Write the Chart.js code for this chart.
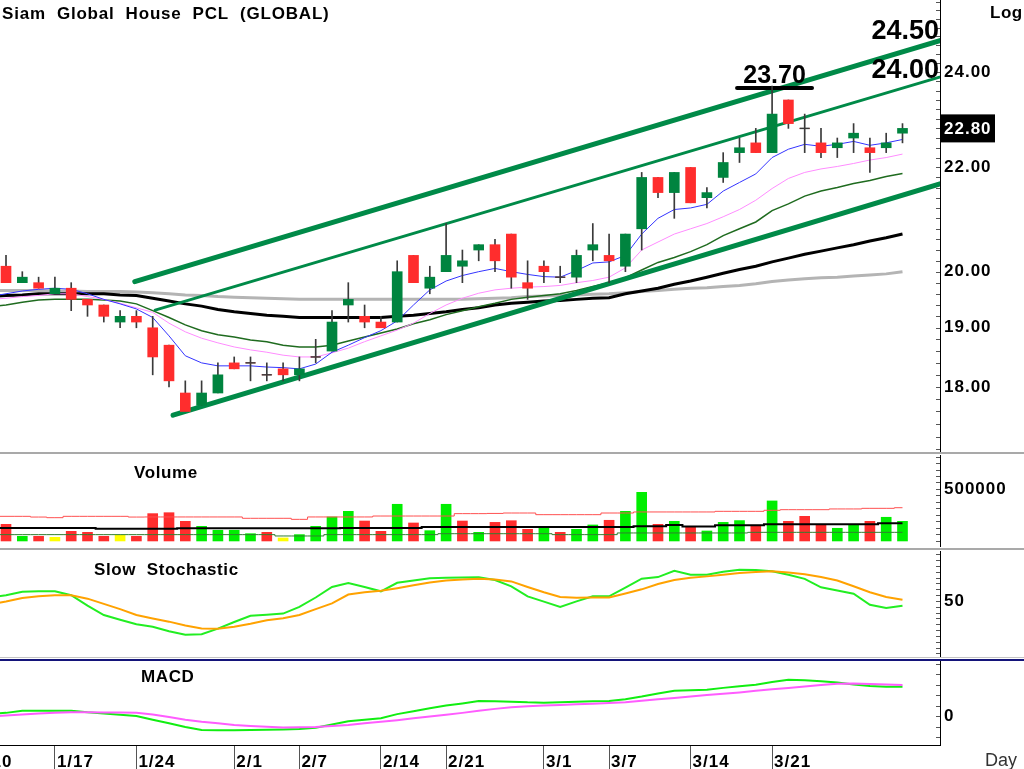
<!DOCTYPE html>
<html>
<head>
<meta charset="utf-8">
<title>Siam Global House PCL (GLOBAL)</title>
<script src="https://cdn.jsdelivr.net/npm/chart.js@4.4.1/dist/chart.umd.min.js"></script>
<style>
  html, body { margin:0; padding:0; background:#fff; }
  body { width:1024px; height:769px; position:relative; overflow:hidden; }
  canvas { position:absolute; left:-33px; }
  .sep { position:absolute; left:0; width:1024px; }
</style>
</head>
<body>
<canvas id="cMain" width="1057" height="452" style="top:0px"></canvas>
<canvas id="cVol" width="1057" height="92" style="top:455px"></canvas>
<canvas id="cSto" width="1057" height="106" style="top:551px"></canvas>
<canvas id="cMacd" width="1057" height="108" style="top:661px"></canvas>
<div class="sep" style="top:452px;height:2px;background:#a9a9a9"></div>
<div class="sep" style="top:548px;height:2px;background:#a9a9a9"></div>
<div class="sep" style="top:657px;height:1px;background:#c4c4c4"></div>
<div class="sep" style="top:659px;height:2px;background:#14147a"></div>
<script>
const FONT = '"Liberation Sans", Arial, Helvetica, sans-serif';

// ---------------- data ----------------
const dates = ['1/10','1/11','1/12','1/13','1/14','1/17','1/18','1/19','1/20','1/21','1/24','1/25','1/26','1/27','1/28','1/31',
  '2/1','2/2','2/3','2/4','2/7','2/8','2/9','2/10','2/11','2/14','2/15','2/17','2/18','2/21','2/22','2/23','2/24','2/25','2/28',
  '3/1','3/2','3/3','3/4','3/7','3/8','3/9','3/10','3/11','3/14','3/15','3/16','3/17','3/18','3/21','3/22','3/23','3/24','3/25',
  '3/28','3/29','3/30','3/31'];
const tickDates = ['1/10','1/17','1/24','2/1','2/7','2/14','2/21','3/1','3/7','3/14','3/21'];

const firstCandle = '1/12';
const open  = [20.1,19.8,19.8,19.6,19.7,19.5,19.4,19.1,19.2,19.0,18.7,17.9,17.7,17.9,18.4,18.4,18.2,18.3,18.2,18.5,
  18.6,19.4,19.2,19.1,19.1,20.3,19.7,20.0,20.1,20.4,20.5,20.7,19.8,20.1,19.9,19.9,20.4,20.3,20.1,20.8,
  21.8,21.5,22.0,21.4,21.8,22.3,22.5,22.3,23.4,22.8,22.5,22.4,22.6,22.4,22.4,22.7];
const high  = [20.3,20.0,19.9,19.9,19.8,19.5,19.4,19.3,19.3,19.2,18.7,18.1,18.1,18.4,18.5,18.5,18.4,18.4,18.5,18.8,
  19.3,19.8,19.4,19.2,20.2,20.3,20.1,20.9,20.4,20.5,20.6,20.7,20.2,20.2,20.1,20.4,20.9,20.7,20.7,21.9,
  21.8,21.9,22.0,21.6,22.3,22.6,22.8,23.7,23.4,23.1,22.8,22.6,22.9,22.6,22.7,22.9];
const low   = [19.8,19.8,19.7,19.6,19.3,19.2,19.1,19.0,19.0,18.2,18.0,17.6,17.7,17.9,18.3,18.1,18.1,18.1,18.1,18.4,
  18.6,19.1,19.0,19.0,19.1,19.8,19.6,20.0,19.8,20.2,20.0,19.7,19.5,19.8,19.8,19.8,20.2,19.8,20.0,20.4,
  21.4,21.0,21.3,21.2,21.7,22.1,22.3,22.3,22.8,22.3,22.2,22.2,22.3,21.9,22.3,22.5];
const close = [19.8,19.9,19.7,19.7,19.5,19.4,19.2,19.2,19.1,18.5,18.1,17.6,17.9,18.2,18.3,18.4,18.2,18.2,18.3,18.5,
  19.1,19.5,19.1,19.0,20.0,19.8,19.9,20.3,20.2,20.5,20.2,19.9,19.7,20.0,19.9,20.3,20.5,20.2,20.7,21.8,
  21.5,21.9,21.3,21.5,22.1,22.4,22.3,23.1,22.9,22.8,22.3,22.5,22.7,22.3,22.5,22.8];
const prevClose = 20.0;   // close of 1/11 (volume of 1/12 is shown as a decline)
const volume = [160000,45000,45000,35000,93000,83000,45000,55000,45000,263000,272000,189000,141000,103000,103000,70000,
  83000,29000,61000,141000,231000,285000,192000,93000,353000,173000,99000,353000,192000,83000,179000,195000,
  112000,125000,83000,112000,154000,199000,285000,468000,160000,189000,135000,96000,179000,196000,151000,385000,
  189000,237000,151000,122000,151000,189000,228000,189000];

// indicator series start one day earlier (1/11)
const firstAvg = '1/11';
const ma5   = [19.55,19.6,19.65,19.68,19.7,19.68,19.6,19.5,19.42,19.33,19.18,18.86,18.52,18.4,18.35,18.35,18.35,18.33,18.32,18.3,
  18.38,18.58,18.7,18.83,18.95,19.12,19.4,19.67,19.83,19.93,20.0,20.06,20.0,19.95,19.91,19.9,20.02,20.16,20.18,20.3,
  20.7,21.0,21.17,21.2,21.27,21.53,21.7,21.87,22.2,22.37,22.47,22.43,22.47,22.53,22.45,22.5,22.57];
const ma10  = [19.5,19.52,19.55,19.57,19.6,19.6,19.55,19.5,19.43,19.35,19.27,19.08,18.93,18.82,18.74,18.67,18.62,18.58,18.53,18.5,
  18.5,18.57,18.65,18.76,18.86,18.96,19.08,19.25,19.4,19.52,19.61,19.67,19.7,19.72,19.73,19.75,19.8,19.84,19.9,20.07,
  20.4,20.55,20.7,20.8,20.9,21.03,21.17,21.35,21.58,21.78,21.9,21.97,22.02,22.08,22.15,22.2,22.27];
const ma25  = [19.37,19.4,19.45,19.49,19.5,19.5,19.5,19.49,19.47,19.42,19.3,19.18,19.05,18.95,18.88,18.84,18.79,18.76,18.7,18.67,
  18.67,18.7,18.77,18.84,18.91,18.98,19.07,19.14,19.23,19.3,19.37,19.43,19.5,19.54,19.57,19.6,19.66,19.73,19.8,19.89,
  20.03,20.17,20.26,20.37,20.5,20.67,20.8,20.93,21.15,21.28,21.43,21.53,21.6,21.68,21.74,21.82,21.88];
const ma75  = [19.55,19.57,19.58,19.6,19.6,19.6,19.6,19.6,19.58,19.57,19.52,19.47,19.42,19.38,19.32,19.28,19.25,19.22,19.2,19.18,
  19.18,19.18,19.18,19.18,19.18,19.2,19.22,19.25,19.28,19.32,19.35,19.4,19.43,19.45,19.47,19.48,19.5,19.52,19.53,19.6,
  19.65,19.7,19.77,19.83,19.9,19.97,20.04,20.1,20.18,20.25,20.32,20.38,20.44,20.5,20.57,20.63,20.7];
const ma200 = [19.66,19.66,19.66,19.66,19.65,19.65,19.64,19.64,19.64,19.63,19.62,19.6,19.58,19.57,19.55,19.54,19.53,19.52,19.51,19.5,
  19.5,19.5,19.5,19.5,19.5,19.5,19.5,19.5,19.5,19.5,19.51,19.52,19.53,19.55,19.56,19.57,19.58,19.59,19.6,19.62,
  19.64,19.66,19.68,19.7,19.71,19.73,19.75,19.78,19.82,19.85,19.87,19.89,19.9,19.92,19.94,19.96,20.0];

const volAvgRed   = [237,237,237,230,224,237,237,237,237,230,231,231,231,231,231,231,218,218,218,208,
  231,231,231,231,240,240,240,240,240,263,263,265,269,269,253,253,253,253,269,269,
  279,279,279,279,279,285,285,285,295,301,301,301,308,308,314,314,320].map(v => v * 1000);
const volAvgBlack = [125,125,125,125,125,125,125,117,117,117,117,117,122,122,122,122,122,122,122,122,
  122,122,125,125,125,125,125,135,135,135,135,135,135,135,135,135,135,135,135,135,
  141,141,154,138,138,151,151,151,160,160,160,160,160,160,160,170,170].map(v => v * 1000);
const volAvgGreen = [61,61,61,61,61,61,61,61,61,61,61,61,61,61,61,61,61,61,48,48,
  48,61,61,61,61,61,61,61,70,70,70,70,70,70,70,61,61,61,61,77,
  77,77,77,77,77,77,77,83,83,83,83,83,83,83,83,83,83].map(v => v * 1000);

const stochK = [53,55,58,58.3,58.3,55,46,38,34,30,28,24,21,21.5,26.3,32,37.4,38.2,39.2,45,
  53,62,65.4,62,58.3,65.6,67.5,69.5,70,70.2,70.3,68,62.6,54,49.5,44.9,49.7,54,54,61.5,
  69.1,70.5,75.9,72.5,72.5,75,76.8,76.6,75.5,72.5,69,61.7,59,56.2,46.8,44,46];
const stochD = [47,49.5,52.5,54,54.9,54.9,52,47.5,43,38,35,32.3,29,26.5,26.3,28,30.5,33.5,35.3,38,
  43,48,55.5,57.5,58.8,61,63.5,65.8,67.5,68.5,69,68.5,66.8,62,57.5,53.4,52.8,53,53.1,56.5,
  60,64.5,68,70,71.1,72.5,73.9,74.8,75.4,74.5,73,70.5,67.5,62.6,57.5,53.5,51.1];

const macdLine   = [0.02,0.03,0.05,0.05,0.05,0.05,0.035,0.025,0.012,0.0,-0.035,-0.068,-0.105,-0.133,-0.135,-0.135,-0.133,-0.13,-0.128,-0.124,
  -0.112,-0.08,-0.05,-0.035,-0.022,0.018,0.045,0.075,0.1,0.12,0.143,0.14,0.137,0.13,0.127,0.132,0.137,0.14,0.143,0.16,
  0.185,0.215,0.241,0.245,0.25,0.268,0.283,0.298,0.325,0.345,0.34,0.33,0.32,0.3,0.285,0.279,0.279];
const macdSignal = [-0.005,0.005,0.015,0.025,0.03,0.035,0.035,0.034,0.033,0.032,0.015,-0.01,-0.035,-0.055,-0.07,-0.085,-0.095,-0.103,-0.11,-0.108,
  -0.105,-0.095,-0.085,-0.07,-0.055,-0.04,-0.022,-0.005,0.012,0.03,0.05,0.068,0.083,0.092,0.1,0.106,0.111,0.117,0.124,0.13,
  0.145,0.16,0.172,0.185,0.2,0.212,0.225,0.24,0.255,0.268,0.28,0.295,0.308,0.31,0.305,0.3,0.295];

// trend lines: [date position, price] pairs (date position = index in dates)
const trendUpper  = [[9.9, 19.82], [60, 24.78]];
const trendMiddle = [[11.15, 19.31], [60, 23.97]];
const trendLower  = [[12.25, 17.54], [60, 21.74]];
const resistance  = { label: '23.70', price: 23.66, from: 46.85, to: 51.45 };
const trendLabels = ['24.50', '24.00'];

const priceTicks = [18, 19, 20, 22, 24];
const volumeTicks = [500000];
const stochTicks = [50];
const macdTicks = [0];

// ---------------- helpers ----------------
const P0 = dates.indexOf(firstCandle);
const A0 = dates.indexOf(firstAvg);
const X_MIN = -0.393, X_MAX = 59.301;
const GREEN_C = '#00843f', RED_C = '#ff2d2d';

const pts = (arr, start) => arr.map((v, k) => ({ x: start + k, y: v }));
const pairPts = arr => arr.map(([x, y]) => ({ x, y }));

function line(data, color, width, order, extra) {
  return Object.assign({ type: 'line', data, borderColor: color, borderWidth: width, pointRadius: 0,
    pointHoverRadius: 0, fill: false, tension: 0, order }, extra || {});
}

function xAxis(show) {
  return {
    type: 'linear', min: X_MIN, max: X_MAX, offset: false, bounds: 'data', display: show,
    grid: { display: show, drawOnChartArea: false, drawTicks: true, tickLength: 24, color: '#555', offset: false },
    border: { display: show, color: '#000', width: 1 },
    ticks: { autoSkip: false, maxRotation: 0, minRotation: 0, align: 'start', labelOffset: 2, padding: -17,
      color: '#000', font: { family: FONT, size: 17, weight: 'bold' }, callback: v => dates[v] ?? '' },
    afterBuildTicks: s => { s.ticks = tickDates.map(d => ({ value: dates.indexOf(d) })); },
    afterFit: s => { if (show) s.height = 24; s.paddingLeft = 0; s.paddingRight = 0; }
  };
}

function yAxis(type, min, max, majors, fmt) {
  return {
    type, min, max, position: 'right', bounds: 'data',
    grid: { drawOnChartArea: false, drawTicks: false },
    border: { display: true, color: '#000', width: 1 },
    ticks: { color: '#000', padding: 4, autoSkip: false, font: { family: FONT, size: 17, weight: 'bold' }, callback: fmt },
    afterBuildTicks: s => { s.ticks = majors.map(v => ({ value: v })); },
    afterFit: s => { s.width = 84; s.paddingTop = 0; s.paddingBottom = 0; }
  };
}

function range(a, b, step) { const r = []; for (let v = a; v <= b + 1e-9; v += step) r.push(+v.toFixed(6)); return r; }

function minorTicks(values, len) {
  return {
    id: 'minorTicks',
    afterDatasetsDraw(chart) {
      const { ctx, chartArea: ca, scales: { y } } = chart;
      ctx.save();
      ctx.strokeStyle = '#555'; ctx.lineWidth = 1;
      ctx.beginPath();
      values.forEach(v => {
        const py = Math.round(y.getPixelForValue(v)) + 0.5;
        if (py < ca.top + 1 || py > ca.bottom - 1) return;
        ctx.moveTo(ca.right - len, py); ctx.lineTo(ca.right, py);
      });
      ctx.stroke(); ctx.restore();
    }
  };
}
const spacing = {
  id: 'spacing',
  beforeDraw(c) { c.ctx.letterSpacing = '1px'; },
  afterDraw(c) { c.ctx.letterSpacing = '0px'; }
};
function textPlugin(fn) { return { id: 'texts', afterDraw(chart) { const ctx = chart.ctx; ctx.save(); fn(chart, ctx); ctx.restore(); } }; }
function label(ctx, txt, x, y, size, weight, spacingPx, align, color) {
  ctx.font = (weight || 'bold') + ' ' + size + 'px ' + FONT;
  ctx.letterSpacing = (spacingPx || 0) + 'px';
  ctx.textAlign = align || 'left';
  ctx.textBaseline = 'alphabetic';
  ctx.fillStyle = color || '#000';
  ctx.fillText(txt, x, y);
}
const OFF = 33; // canvas left edge is 33px left of the page

const baseOptions = (scales) => ({
  responsive: false, animation: false, events: [],
  layout: { padding: 0, autoPadding: false },
  plugins: { legend: { display: false }, tooltip: { enabled: false }, title: { display: false } },
  scales
});

// ---------------- main price chart ----------------
const bodyData = open.map((o, k) => ({ x: P0 + k, y: [o, close[k]] }));
const wickData = low.map((l, k) => ({ x: P0 + k, y: [l, high[k]] }));
const dojiData = open.map((o, k) => ({ x: P0 + k, y: close[k], d: o === close[k] })).filter(p => p.d);
const bodyColors = open.map((o, k) => close[k] > o ? GREEN_C : RED_C);
const TREND = '#008a48';

function priceAt(tr, xv) {
  const [[x0, p0], [x1, p1]] = tr;
  const f = (xv - x0) / (x1 - x0);
  return Math.exp(Math.log(p0) + f * (Math.log(p1) - Math.log(p0)));
}

new Chart(document.getElementById('cMain'), {
  type: 'bar',
  data: { datasets: [
    line(pts(ma200, A0), '#b4b4b4', 3, 12),
    line(pts(ma75, A0), '#000000', 3, 11),
    line(pts(ma25, A0), '#1f6b1f', 1.5, 10),
    line(pts(ma10, A0), '#ff8cff', 1, 9),
    line(pts(ma5, A0), '#3434ff', 1, 8),
    line(pairPts(trendUpper), TREND, 5, 7, { borderCapStyle: 'round' }),
    line(pairPts(trendMiddle), TREND, 3, 6, { borderCapStyle: 'round' }),
    line(pairPts(trendLower), TREND, 5, 5, { borderCapStyle: 'round' }),
    line([{ x: resistance.from, y: resistance.price }, { x: resistance.to, y: resistance.price }], '#000', 4, 4, { borderCapStyle: 'round' }),
    { type: 'bar', data: wickData, backgroundColor: '#3a3a3a', barThickness: 1, grouped: false, borderWidth: 0, order: 3 },
    { type: 'bar', data: bodyData, backgroundColor: bodyColors, barThickness: 10, grouped: false, borderWidth: 0, order: 2 },
    line(dojiData, '#3a3a3a', 0, 1, { showLine: false, pointStyle: 'line', pointRadius: 5, pointBorderWidth: 1.5,
      pointBorderColor: '#3a3a3a', pointBackgroundColor: '#3a3a3a' })
  ] },
  options: baseOptions({
    x: xAxis(false),
    y: yAxis('logarithmic', 16.96, 25.64, priceTicks, v => Number(v).toFixed(2))
  }),
  plugins: [spacing, minorTicks(range(17, 25.6, 0.2), 4), textPlugin((chart, ctx) => {
    const { chartArea: ca, scales: { x, y } } = chart;
    label(ctx, 'Siam  Global  House  PCL  (GLOBAL)', OFF + 2, 19, 17, 'bold', 0.8);
    label(ctx, 'Log', OFF + 990, 18, 17, 'bold', 0.5);
    const yU = y.getPixelForValue(priceAt(trendUpper, X_MAX));
    const yM = y.getPixelForValue(priceAt(trendMiddle, X_MAX));
    label(ctx, trendLabels[0], ca.right - 1, yU - 2, 27, 'bold', 0, 'right');
    label(ctx, trendLabels[1], ca.right - 1, yM + 1, 27, 'bold', 0, 'right');
    const yR = y.getPixelForValue(resistance.price);
    const xR = (x.getPixelForValue(resistance.from) + x.getPixelForValue(resistance.to)) / 2;
    label(ctx, resistance.label, xR, yR - 4.5, 25, 'bold', 0, 'center');
    const last = close[close.length - 1];
    const yp = y.getPixelForValue(last);
    ctx.fillStyle = '#000';
    ctx.fillRect(ca.right + 1, yp - 14, 54, 28);
    label(ctx, last.toFixed(2), ca.right + 4, yp + 6, 17, 'bold', 1, 'left', '#fff');
  })]
});

// ---------------- volume ----------------
const volColors = volume.map((_, k) => {
  const prev = k === 0 ? prevClose : close[k - 1];
  const d = Math.round((close[k] - prev) * 100);
  return d > 0 ? '#00ee00' : d < 0 ? RED_C : '#ffff00';
});
new Chart(document.getElementById('cVol'), {
  type: 'bar',
  data: { datasets: [
    { type: 'bar', data: pts(volume, P0), backgroundColor: volColors, barThickness: 10, grouped: false, borderWidth: 0, order: 5 },
    line(pts(volAvgGreen, A0), '#2f7f2f', 1, 3, { stepped: 'middle' }),
    line(pts(volAvgBlack, A0), '#000', 2, 2, { stepped: 'middle' }),
    line(pts(volAvgRed, A0), '#ff5050', 1, 1, { stepped: 'middle' })
  ] },
  options: baseOptions({
    x: xAxis(false),
    y: yAxis('linear', -58000, 827000, volumeTicks, v => String(v))
  }),
  plugins: [spacing, minorTicks(range(0, 812500, 62500), 4), textPlugin((chart, ctx) => {
    label(ctx, 'Volume', OFF + 134, 478 - 455, 17, 'bold', 0.6);
  })]
});

// ---------------- slow stochastic ----------------
new Chart(document.getElementById('cSto'), {
  type: 'line',
  data: { datasets: [
    line(pts(stochK, A0), '#22ee22', 2, 2),
    line(pts(stochD, A0), '#ffa200', 2, 1)
  ] },
  options: baseOptions({
    x: xAxis(false),
    y: yAxis('linear', 2.0, 92.85, stochTicks, v => String(v))
  }),
  plugins: [spacing, minorTicks(range(5, 90, 5), 4), textPlugin((chart, ctx) => {
    label(ctx, 'Slow  Stochastic', OFF + 94, 575 - 551, 17, 'bold', 0.6);
  })]
});

// ---------------- MACD ----------------
new Chart(document.getElementById('cMacd'), {
  type: 'line',
  data: { datasets: [
    line(pts(macdLine, A0), '#11ee11', 2, 2),
    line(pts(macdSignal, A0), '#ff5cff', 2, 1)
  ] },
  options: baseOptions({
    x: xAxis(true),
    y: yAxis('linear', -0.276, 0.524, macdTicks, v => String(Math.round(v)))
  }),
  plugins: [spacing, minorTicks(range(-0.2, 0.5, 0.1), 4), textPlugin((chart, ctx) => {
    label(ctx, 'MACD', OFF + 141, 682 - 661, 17, 'bold', 0.6);
    label(ctx, 'Day', OFF + 985, 766 - 661, 18, 'normal', 0, 'left', '#333');
  })]
});
</script>
</body>
</html>
